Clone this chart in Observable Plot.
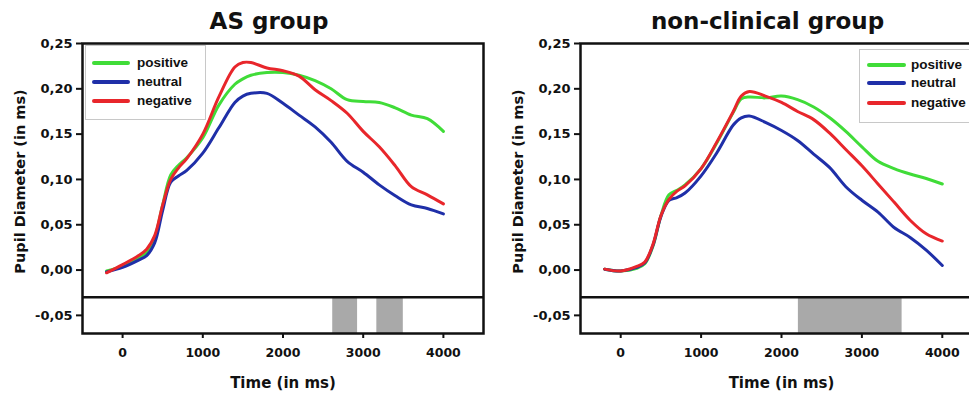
<!DOCTYPE html>
<html>
<head>
<meta charset="utf-8">
<script src="https://cdn.jsdelivr.net/npm/d3@7"></script>
<script src="https://cdn.jsdelivr.net/npm/@observablehq/plot@0.6"></script>
<style>
  html, body { margin: 0; padding: 0; background: #fff; }
  #wrap { position: relative; width: 969px; height: 393px; overflow: hidden; background: #fff; }
  #wrap svg { max-width: none !important; }
  .panel { position: absolute; top: 0; height: 393px; }
  .legend { position: absolute; background: #fff; border: 1px solid #c8c8c8; font-family: 'Liberation Sans', Arial, sans-serif; font-weight: bold; font-size: 13.5px; color: #111; }
  .legend .row { position: absolute; left: 0; height: 16px; white-space: nowrap; }
  .legend .sw { position: absolute; top: 6px; height: 4px; border-radius: 2px; }
  .legend .lb { position: absolute; top: 0; line-height: 16px; }
</style>
</head>
<body>
<div id="wrap">
  <div id="left" class="panel" style="left:0px;width:485px"></div>
  <div id="right" class="panel" style="left:484px;width:500px"></div>
  <div id="legL" class="legend" style="left:85px;top:45px;width:119px;height:73px"></div>
  <div id="legR" class="legend" style="left:859px;top:49px;width:130px;height:72px"></div>
</div>
<script>
// ---- data ----
const times = [-200, 0, 200, 300, 400, 500, 600, 700, 800, 1000, 1200, 1400, 1500, 1600, 1800, 2000, 2200, 2400, 2600, 2800, 3000, 3200, 3400, 3600, 3800, 4000];

const conditions = ["positive", "neutral", "negative"];
const colors = ["#40dc38", "#1f2fa8", "#e8262b"];

// AS group
const asPositive = [-0.001, 0.004, 0.013, 0.020, 0.036, 0.072, 0.105, 0.116, 0.124, 0.146, 0.182, 0.205, 0.211, 0.215, 0.218, 0.218, 0.215, 0.209, 0.200, 0.188, 0.186, 0.185, 0.179, 0.171, 0.167, 0.153];
const asNeutral  = [-0.002, 0.003, 0.011, 0.016, 0.030, 0.066, 0.097, 0.104, 0.110, 0.129, 0.157, 0.185, 0.192, 0.195, 0.195, 0.184, 0.171, 0.158, 0.141, 0.120, 0.108, 0.094, 0.082, 0.072, 0.068, 0.062];
const asNegative = [-0.003, 0.006, 0.016, 0.023, 0.038, 0.072, 0.100, 0.113, 0.123, 0.150, 0.191, 0.224, 0.229, 0.229, 0.223, 0.220, 0.214, 0.199, 0.187, 0.173, 0.153, 0.136, 0.115, 0.092, 0.083, 0.073];

// non-clinical group
const ncPositive = [0.001, -0.001, 0.002, 0.007, 0.026, 0.060, 0.083, 0.088, 0.094, 0.112, 0.141, 0.174, 0.189, 0.191, 0.190, 0.192, 0.188, 0.180, 0.168, 0.153, 0.136, 0.120, 0.112, 0.106, 0.101, 0.095];
const ncNeutral  = [0.001, -0.001, 0.003, 0.008, 0.027, 0.059, 0.077, 0.080, 0.085, 0.104, 0.130, 0.160, 0.168, 0.170, 0.163, 0.154, 0.143, 0.128, 0.113, 0.092, 0.077, 0.064, 0.047, 0.036, 0.022, 0.005];
const ncNegative = [0.001, -0.001, 0.004, 0.009, 0.028, 0.060, 0.078, 0.087, 0.093, 0.112, 0.142, 0.175, 0.192, 0.197, 0.192, 0.185, 0.175, 0.166, 0.151, 0.133, 0.115, 0.095, 0.075, 0.055, 0.040, 0.032];

// significant time windows (grey bars)
const asSignificant = [[2620, 2930], [3170, 3500]];
const ncSignificant = [[2210, 3500]];

const xTicks = [0, 1000, 2000, 3000, 4000];
const yTicks = [-0.05, 0, 0.05, 0.10, 0.15, 0.20, 0.25];
const xDomain = [-500, 4500];
const yDomain = [-0.07, 0.25];
const stripRange = [-0.07, -0.03];

const titles = ["AS group", "non-clinical group"];
const yLabel = "Pupil Diameter (in ms)";
const xLabel = "Time (in ms)";

const fmt = d => d.toFixed(2).replace(".", ",");

function panel(title, series, sig, width, marginLeft, marginRight) {
  const rows = conditions.flatMap((c, k) => times.map((t, i) => ({t, v: series[k][i], c})));
  return Plot.plot({
    width, height: 393,
    marginLeft, marginRight, marginTop: 43, marginBottom: 60,
    style: {fontFamily: "'DejaVu Sans', sans-serif", fontWeight: "bold", fontSize: "13px", color: "#111", background: "transparent", overflow: "visible"},
    x: {domain: xDomain},
    y: {domain: yDomain},
    color: {domain: conditions, range: colors},
    marks: [
      Plot.rect(sig, {x1: d => d[0], x2: d => d[1], y1: () => stripRange[0], y2: () => stripRange[1], fill: "#a9a9a9"}),
      Plot.ruleY([stripRange[1]], {stroke: "#111", strokeWidth: 2.5}),
      Plot.line(rows, {x: "t", y: "v", z: "c", stroke: "c", strokeWidth: 3, curve: "catmull-rom"}),
      Plot.frame({stroke: "#111", strokeWidth: 2.5}),
      Plot.axisX({ticks: xTicks, tickSize: 5, tickPadding: 10, label: null, strokeWidth: 2, fontSize: 12.5, tickFormat: d => String(d)}),
      Plot.axisY({ticks: yTicks, tickSize: 6, tickPadding: 4, label: null, strokeWidth: 2, fontSize: 13, tickFormat: fmt}),
      Plot.text([title], {frameAnchor: "top", lineAnchor: "middle", textAnchor: "middle", dx: -14, dy: -22, fontSize: 23}),
      Plot.text([yLabel], {frameAnchor: "left", lineAnchor: "middle", textAnchor: "middle", rotate: -90, dx: -62, dy: -7, fontSize: 14.5}),
      Plot.text([xLabel], {frameAnchor: "bottom", lineAnchor: "middle", textAnchor: "middle", dy: 50, fontSize: 15})
    ]
  });
}

document.getElementById("left").append(panel(titles[0], [asPositive, asNeutral, asNegative], asSignificant, 485, 82, 2));
document.getElementById("right").append(panel(titles[1], [ncPositive, ncNeutral, ncNegative], ncSignificant, 500, 96, 2));

function legend(el, rowsY, swLeft, swWidth, lbLeft) {
  conditions.forEach((c, k) => {
    const row = document.createElement("div");
    row.className = "row";
    row.style.top = (rowsY[k] - 8) + "px";
    row.innerHTML = `<span class="sw" style="left:${swLeft}px;width:${swWidth}px;background:${colors[k]}"></span><span class="lb" style="left:${lbLeft}px">${c}</span>`;
    el.append(row);
  });
}
legend(document.getElementById("legL"), [17, 36, 55], 6, 38, 51);
legend(document.getElementById("legR"), [15, 33, 53], 7, 39, 51);
</script>
</body>
</html>
